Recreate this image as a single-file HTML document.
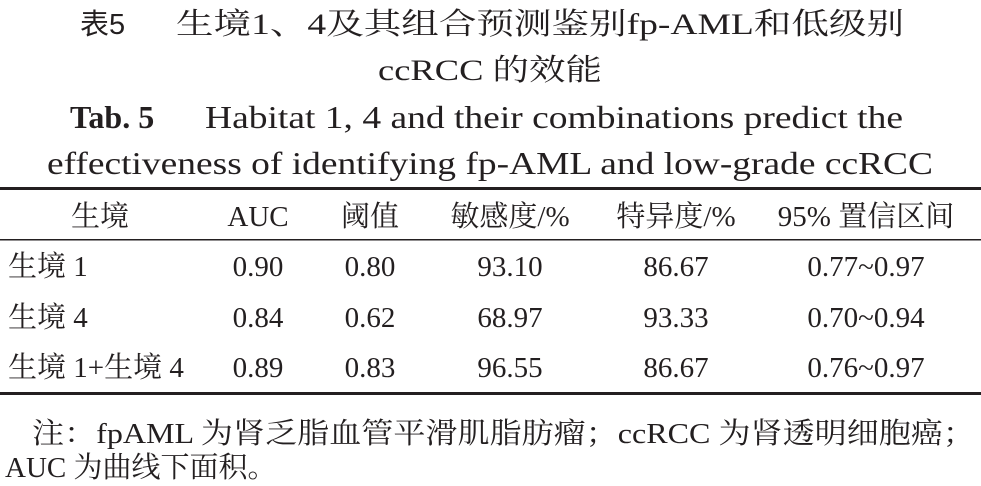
<!DOCTYPE html>
<html><head><meta charset="utf-8"><style>
html,body{margin:0;padding:0;background:#fff;}
svg{display:block;}
text{fill:#231f20;}
.s{font-family:"Liberation Serif","Noto Serif CJK SC","WenQuanYi Zen Hei",serif;}
</style></head><body>
<svg width="981" height="486" viewBox="0 0 981 486" xmlns="http://www.w3.org/2000/svg">
<g class="s" font-size="30">
<text x="80" y="34" font-family="Liberation Sans,Noto Sans CJK SC,sans-serif" font-size="29">表5</text>
<text x="176" y="34" textLength="728" lengthAdjust="spacingAndGlyphs">生境1、4及其组合预测鉴别fp-AML和低级别</text>
<text x="378" y="80" textLength="224" lengthAdjust="spacingAndGlyphs">ccRCC 的效能</text>
<text x="70" y="128" font-weight="bold" font-size="32">Tab. 5</text>
<text x="205" y="128" font-size="32" textLength="698" lengthAdjust="spacingAndGlyphs">Habitat 1, 4 and their combinations predict the</text>
<text x="47" y="174" font-size="32" textLength="886" lengthAdjust="spacingAndGlyphs">effectiveness of identifying fp-AML and low-grade ccRCC</text>
</g>
<rect x="0" y="187" width="981" height="3" fill="#231f20"/>
<rect x="0" y="239" width="981" height="1.5" fill="#231f20"/>
<rect x="0" y="392" width="981" height="3" fill="#231f20"/>
<g class="s" font-size="29" text-anchor="middle">
<text x="100" y="226">生境</text>
<text x="258" y="226">AUC</text>
<text x="370" y="226">阈值</text>
<text x="510" y="226">敏感度/%</text>
<text x="676" y="226">特异度/%</text>
<text x="866" y="226">95% 置信区间</text>

<text x="258" y="276">0.90</text><text x="370" y="276">0.80</text><text x="510" y="276">93.10</text><text x="676" y="276">86.67</text><text x="866" y="276">0.77~0.97</text>
<text x="258" y="327">0.84</text><text x="370" y="327">0.62</text><text x="510" y="327">68.97</text><text x="676" y="327">93.33</text><text x="866" y="327">0.70~0.94</text>
<text x="258" y="377">0.89</text><text x="370" y="377">0.83</text><text x="510" y="377">96.55</text><text x="676" y="377">86.67</text><text x="866" y="377">0.76~0.97</text>
</g>
<g class="s" font-size="29">
<text x="8" y="276">生境 1</text>
<text x="8" y="327">生境 4</text>
<text x="8" y="377">生境 1+生境 4</text>
<text x="32" y="443" textLength="943" lengthAdjust="spacingAndGlyphs">注：fpAML 为肾乏脂血管平滑肌脂肪瘤；ccRCC 为肾透明细胞癌；</text>
<text x="5" y="477">AUC 为曲线下面积。</text>
</g>
</svg>
</body></html>
